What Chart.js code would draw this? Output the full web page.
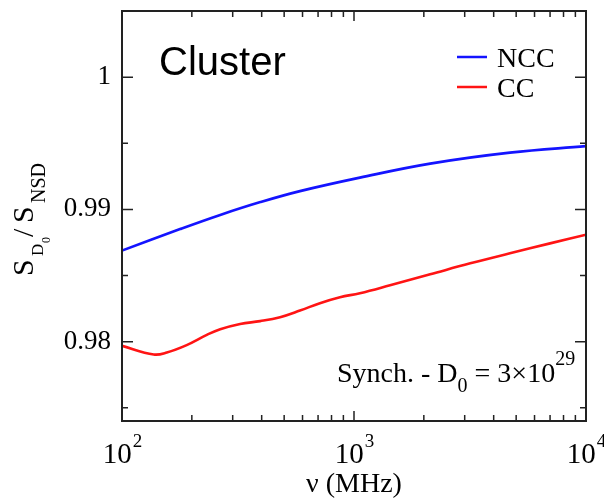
<!DOCTYPE html>
<html>
<head>
<meta charset="utf-8">
<script src="https://cdn.jsdelivr.net/npm/chart.js@4.4.1/dist/chart.umd.min.js"></script>
<style>
  html, body { margin: 0; padding: 0; background: #fff; }
  #wrap { width: 604px; height: 498px; }
</style>
</head>
<body>
<div id="wrap"><canvas id="chart" width="604" height="498"></canvas></div>
<script>
// frequency (MHz) and flux ratio for the two cluster models
const nccFreq = [100, 178, 265, 395, 585, 1060, 2130, 4700, 10000];
const nccRatio = [0.98688, 0.98851, 0.98958, 0.99055, 0.99138, 0.99240, 0.99346, 0.99429, 0.99478];

const ccFreq = [100, 137, 156, 190, 232, 265, 323, 394, 480, 585, 713, 870, 1060, 1430, 2130, 3170, 4700, 7000, 10000];
const ccRatio = [0.97968, 0.97903, 0.97918, 0.97974, 0.98051, 0.98094, 0.98134, 0.98155, 0.98185, 0.98235,
                 0.98291, 0.98336, 0.98366, 0.98426, 0.98509, 0.98592, 0.98668, 0.98743, 0.98808];

const seriesLabels = ['NCC', 'CC'];
const seriesColors = ['#1414ff', '#ff1414'];

// axis ticks
const xMajorTicks = [100, 1000, 10000];
const xTickExponents = ['2', '3', '4'];
const yMajorTicks = [0.98, 0.99, 1.0];
const yMinorTicks = [0.975, 0.985, 0.995];
const yTickLabels = ['0.98', '0.99', '1'];

const xMinorTicks = [];
[100, 1000].forEach(d => { for (let k = 2; k <= 9; k++) xMinorTicks.push(d * k); });

const SERIF = '"Liberation Serif", "DejaVu Serif", serif';
const SANS = '"Liberation Sans", Arial, sans-serif';

function toPoints(xs, ys) {
    return xs.map((x, i) => ({ x: x, y: ys[i] }));
}

const decorations = {
    id: 'decorations',
    afterDraw(chart) {
        const ctx = chart.ctx;
        const area = chart.chartArea;
        const xs = chart.scales.x;
        const ys = chart.scales.y;
        ctx.save();

        // frame
        ctx.strokeStyle = '#222';
        ctx.lineWidth = 2;
        ctx.strokeRect(area.left, area.top, area.right - area.left, area.bottom - area.top);

        // inward ticks on all four sides
        ctx.lineWidth = 1.5;
        ctx.beginPath();
        function xTick(v, len) {
            const px = xs.getPixelForValue(v);
            ctx.moveTo(px, area.bottom); ctx.lineTo(px, area.bottom - len);
            ctx.moveTo(px, area.top); ctx.lineTo(px, area.top + len);
        }
        function yTick(v, len) {
            const py = ys.getPixelForValue(v);
            ctx.moveTo(area.left, py); ctx.lineTo(area.left + len, py);
            ctx.moveTo(area.right, py); ctx.lineTo(area.right - len, py);
        }
        xMajorTicks.forEach(v => xTick(v, 10));
        xMinorTicks.forEach(v => xTick(v, 6));
        yMajorTicks.forEach(v => yTick(v, 11));
        yMinorTicks.forEach(v => yTick(v, 6));
        ctx.stroke();

        // x tick labels: 10^n
        ctx.fillStyle = '#000';
        ctx.textBaseline = 'alphabetic';
        ctx.textAlign = 'left';
        xMajorTicks.forEach((v, i) => {
            const px = xs.getPixelForValue(v);
            ctx.font = '29px ' + SERIF;
            const wBase = ctx.measureText('10').width;
            ctx.font = '19px ' + SERIF;
            const wExp = ctx.measureText(xTickExponents[i]).width;
            const x0 = px - (wBase + wExp) / 2;
            ctx.font = '29px ' + SERIF;
            ctx.fillText('10', x0, 463);
            ctx.font = '19px ' + SERIF;
            ctx.fillText(xTickExponents[i], x0 + wBase + 1, 447);
        });

        // x axis title
        ctx.font = '28px ' + SERIF;
        ctx.textAlign = 'center';
        ctx.fillText('\u03bd (MHz)', (area.left + area.right) / 2, 492);

        // y axis title, rotated: S_{D_0} / S_{NSD}
        const runs = [
            { t: 'S', f: '30px', bx: 33, sy: 276 },
            { t: 'D', f: '17px', bx: 43, sy: 256 },
            { t: '0', f: '12px', bx: 50, sy: 243 },
            { t: '/', f: '30px', bx: 33, sy: 237 },
            { t: 'S', f: '30px', bx: 33, sy: 223 },
            { t: 'NSD', f: '20px', bx: 45, sy: 203 }
        ];
        ctx.textAlign = 'left';
        runs.forEach(r => {
            ctx.save();
            ctx.translate(r.bx, r.sy);
            ctx.rotate(-Math.PI / 2);
            ctx.font = r.f + ' ' + SERIF;
            ctx.fillText(r.t, 0, 0);
            ctx.restore();
        });

        // panel title
        ctx.font = '40px ' + SANS;
        ctx.fillText('Cluster', 159, 75);

        // legend
        chart.data.datasets.forEach((ds, i) => {
            const ly = 57 + i * 30;
            ctx.strokeStyle = ds.borderColor;
            ctx.lineWidth = 2.5;
            ctx.beginPath();
            ctx.moveTo(457, ly);
            ctx.lineTo(487, ly);
            ctx.stroke();
            ctx.fillStyle = '#000';
            ctx.font = '28px ' + SERIF;
            ctx.fillText(ds.label, 497, ly + 10);
        });

        // annotation: Synch. - D_0 = 3x10^29
        let x = 337;
        const by = 382;
        ctx.font = '28px ' + SERIF;
        ctx.fillText('Synch. - D', x, by);
        x += ctx.measureText('Synch. - D').width;
        ctx.font = '20px ' + SERIF;
        ctx.fillText('0', x, by + 10);
        x += ctx.measureText('0').width;
        ctx.font = '28px ' + SERIF;
        ctx.fillText(' = 3\u00d710', x, by);
        x += ctx.measureText(' = 3\u00d710').width;
        ctx.font = '20px ' + SERIF;
        ctx.fillText('29', x, by - 17);

        ctx.restore();
    }
};

new Chart(document.getElementById('chart'), {
    type: 'line',
    data: {
        datasets: [
            {
                label: seriesLabels[0],
                data: toPoints(nccFreq, nccRatio),
                borderColor: seriesColors[0],
                borderWidth: 2.6,
                pointRadius: 0,
                tension: 0.4
            },
            {
                label: seriesLabels[1],
                data: toPoints(ccFreq, ccRatio),
                borderColor: seriesColors[1],
                borderWidth: 2.6,
                pointRadius: 0,
                tension: 0.4
            }
        ]
    },
    options: {
        responsive: false,
        animation: false,
        layout: { padding: { left: 0, right: 18, top: 11, bottom: 0 } },
        plugins: {
            legend: { display: false },
            tooltip: { enabled: false }
        },
        scales: {
            x: {
                type: 'logarithmic',
                min: 100,
                max: 10000,
                grid: { display: false, drawTicks: false },
                border: { display: false },
                ticks: { display: false },
                afterFit(scale) {
                    scale.height = 77;
                    scale.paddingLeft = 0;
                    scale.paddingRight = 0;
                }
            },
            y: {
                type: 'linear',
                min: 0.974,
                max: 1.005,
                grid: { display: false, drawTicks: false },
                border: { display: false },
                afterBuildTicks(scale) {
                    scale.ticks = yMajorTicks.map(v => ({ value: v }));
                },
                ticks: {
                    padding: 11,
                    color: '#000',
                    font: { family: SERIF, size: 27 },
                    callback: (v, i) => yTickLabels[i]
                },
                afterFit(scale) {
                    scale.width = 122;
                    scale.paddingTop = 0;
                    scale.paddingBottom = 0;
                }
            }
        }
    },
    plugins: [decorations]
});
</script>
</body>
</html>
